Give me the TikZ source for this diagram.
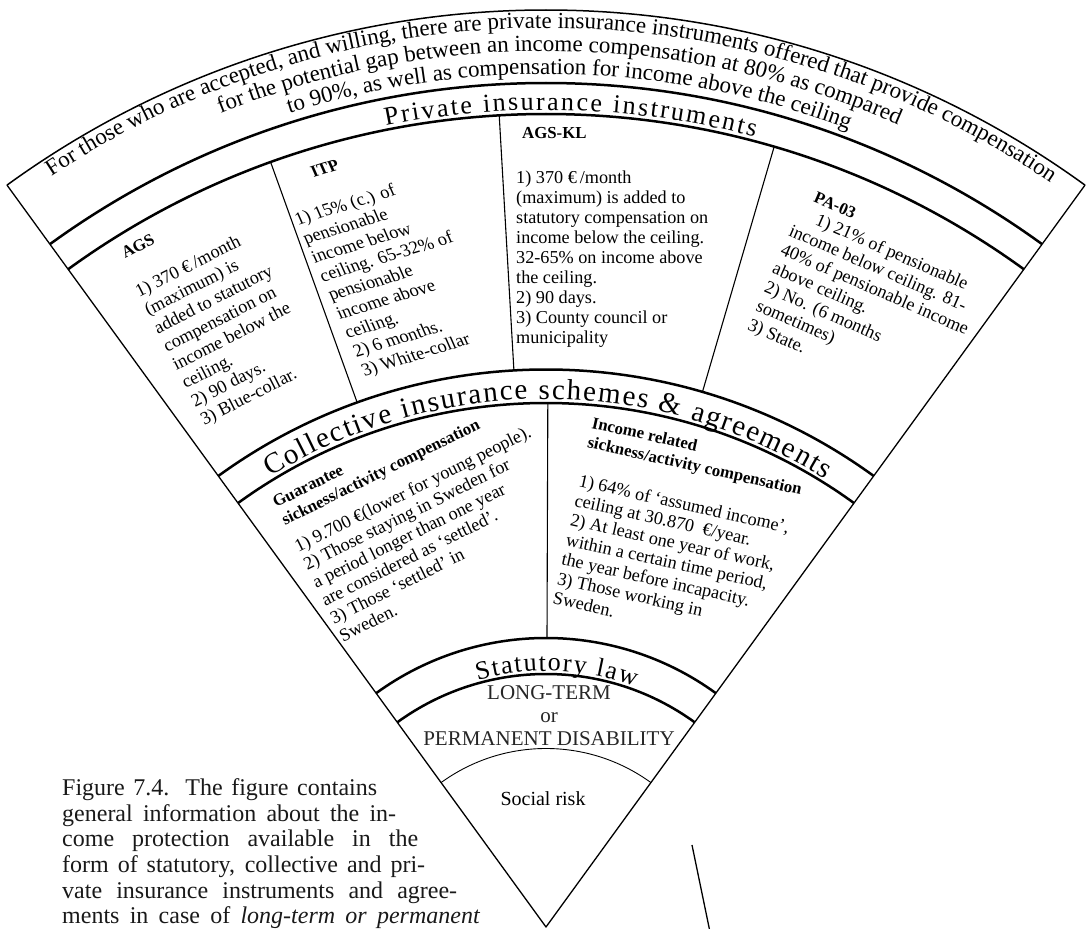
\documentclass[tikz,border=0pt]{standalone}
\usepackage{fontspec}
\setmainfont{Liberation Serif}
\usetikzlibrary{decorations.text}

% text of the fan cells
\newcommand\cellfont[1]{\fontsize{18.2}{#1}\selectfont}
\newcommand\cellbox[2]{\parbox[t]{330pt}{\cellfont{#1}\raggedright #2}}
\newcommand\cellhead[1]{{\fontsize{16.8}{16.8}\selectfont\bfseries #1}}

\begin{document}
\begin{tikzpicture}[x=1pt,y=1pt,line join=round,
  fanedge/.style={line width=1.3pt},
  outerarc/.style={line width=1.5pt},
  bandarc/.style={line width=2.5pt},
  thinarc/.style={line width=0.9pt},
  divider/.style={line width=1.1pt},
  cell/.style={inner sep=0pt, anchor=base west},
  capline/.style={inner sep=0pt, anchor=base west, text=black!90,
    font=\fontsize{24}{26}\selectfont},
  plain/.style={inner sep=0pt, anchor=base, text=black!85,
    font=\fontsize{21}{23}\selectfont},
]
% origin at the apex of the fan
\useasboundingbox (-546,-2) rectangle (541,927);
\coordinate (apex) at (0,0);

% ---- fan outline and bands
\draw[fanedge] (126:917) -- (apex) -- (54:917);
\draw[outerarc] (126:917) arc[start angle=126, end angle=54, radius=917];
\foreach \r in {844,813,557.5,524,289,253}
  \draw[bandarc] (126:\r) arc[start angle=126, end angle=54, radius=\r];
\draw[thinarc] (126:178.5) arc[start angle=126, end angle=54, radius=178.5];

% ---- column dividers
\draw[divider] (109.8:813) -- (109.8:557.5);
\draw[divider] (93.3:813) -- (93.3:557.5);
\draw[divider] (73.7:813) -- (73.7:557.5);
\draw[divider] (89.8:524) -- (89.8:289);

% ---- curved texts
\path[decorate, decoration={text along path, text align=center,
  text={|\fontsize{23}{23}\selectfont|For those who are accepted, and willing, there are private insurance instruments offered that provide compensation}}]
  (134.7:899) arc[start angle=134.7, end angle=44.7, radius=899];
\path[decorate, decoration={text along path, text align=center,
  text={|\fontsize{23}{23}\selectfont|for the potential gap between an income compensation at 80{\%} as compared}}]
  (134.1:876) arc[start angle=134.1, end angle=44.1, radius=876];
\path[decorate, decoration={text along path, text align=center,
  text={|\fontsize{23}{23}\selectfont|to 90{\%}, as well as compensation for income above the ceiling}}]
  (133.4:853) arc[start angle=133.4, end angle=43.4, radius=853];

\path[decorate, decoration={text along path, text align=fit to path,
  text={|\fontsize{26}{26}\selectfont|Private insurance instruments}}]
  (101.3:817) arc[start angle=101.3, end angle=75.2, radius=817];
\path[decorate, decoration={text along path, text align=fit to path,
  text={|\fontsize{29}{29}\selectfont|Collective insurance schemes {\&} agreements}}]
  (121.5:528) arc[start angle=121.5, end angle=58.1, radius=528];
\path[decorate, decoration={text along path, text align=fit to path,
  text={|\fontsize{26}{26}\selectfont|Statutory law}}]
  (105.5:256) arc[start angle=105.5, end angle=69.7, radius=256];

% ---- straight texts, placed in page pixels (y downwards)
\begin{scope}[shift={(-546,927)}, y=-1pt]
\node[cell, rotate=27] (ags) at (120.4,261.2) {\cellbox{20.5pt}{%
  \hspace*{5pt}\cellhead{AGS}\\[20.5pt]
  1) 370 €\,/month\\ (maximum) is\\ added to statutory\\ compensation on\\
  income below the\\ ceiling.\\ 2) 90 days.\\ 3) Blue-collar.}};

\node[cell, rotate=17, xslant=-0.12] (itp) at (281,187.7) {\cellbox{20.5pt}{%
  \hspace*{34pt}\cellhead{ITP}\\[20.5pt]
  1) 15\% (c.) of\\ pensionable\\ income below\\ ceiling. 65-32\% of\\
  pensionable\\ income above\\ ceiling.\\ 2) 6 months.\\ 3) White-collar}};

\node[cell] (agskl) at (516,139) {\cellbox{20pt}{%
  \hspace*{6pt}\cellhead{AGS-KL}\\[25pt]
  1) 370 €\,/month\\ (maximum) is added to\\ statutory compensation on\\
  income below the ceiling.\\ 32-65\% on income above\\ the ceiling.\\
  2) 90 days.\\ 3) County council or\\ municipality}};

\node[cell, rotate=-23.5] (pa) at (804,197.6) {\cellbox{20.5pt}{%
  \hspace*{9.6pt}\cellhead{PA-03}\\
  \hspace*{20pt}1) 21\% of pensionable\\ income below ceiling. 81-\\
  40\% of pensionable income\\ above ceiling.\\ 2) No. (6 months\\
  sometimes)\\ 3) State.}};

\node[cell, rotate=26.5] (guar) at (276,508) {\cellbox{20pt}{%
  \cellhead{Guarantee}\\ \cellhead{sickness/activity compensation}\\[10pt]
  1) 9.700 €(lower for young people).\\ 2) Those staying in Sweden for\\
  a period longer than one year\\ are considered as ‘settled’.\\
  3) Those ‘settled’ in\\ Sweden.}};

\node[cell, rotate=-12.5] (inc) at (591,428) {\cellbox{20pt}{%
  \cellhead{Income related}\\ \cellhead{sickness/activity compensation}\\[20pt]
  1) 64\% of ‘assumed income’,\\ ceiling at 30.870 \ €/year.\\
  2) At least one year of work,\\ within a certain time period,\\
  the year before incapacity.\\ 3) Those working in\\ Sweden.}};

\node[plain] (lt1) at (549,700) {LONG-TERM};
\node[plain] (lt2) at (549,722.5) {or};
\node[plain] (lt3) at (549,746) {PERMANENT DISABILITY};
\node[plain, text=black, font=\fontsize{20}{20}\selectfont] (risk) at (543,806) {Social risk};

% caption set beside the fan
\node[capline] (cap1) at (62,796) {\makebox[315pt][s]{Figure 7.4. The figure contains}};
\node[capline] (cap2) at (62,821.5) {\makebox[334pt][s]{general information about the in-}};
\node[capline] (cap3) at (62,847) {\makebox[356pt][s]{come protection available in the}};
\node[capline] (cap4) at (62,872.5) {\makebox[363pt][s]{form of statutory, collective and pri-}};
\node[capline] (cap5) at (62,898) {\makebox[395pt][s]{vate insurance instruments and agree-}};
\node[capline] (cap6) at (62,923.5) {\makebox[418pt][s]{ments in case of \textit{long-term or permanent}}};

% short stroke at the foot of the page
\draw[line width=1.3pt] (692,845) -- (710,932);
\end{scope}
\end{tikzpicture}
\end{document}
